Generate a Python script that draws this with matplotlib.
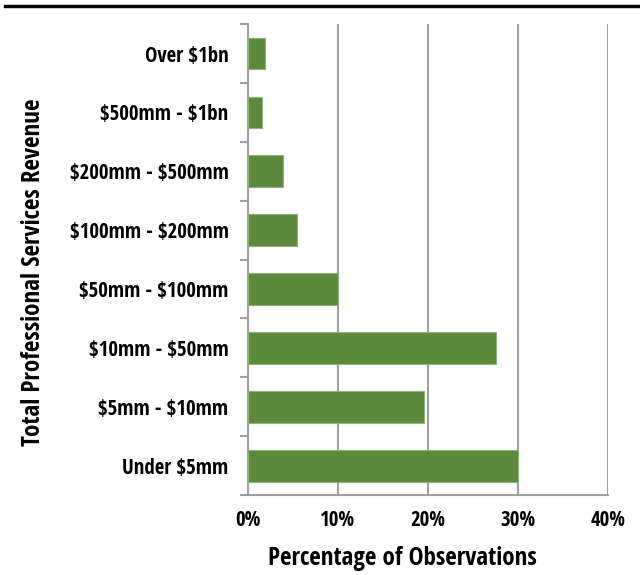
import numpy as np
import matplotlib.pyplot as plt

categories = ['Under $5mm', '$5mm - $10mm', '$10mm - $50mm', '$50mm - $100mm',
              '$100mm - $200mm', '$200mm - $500mm', '$500mm - $1bn', 'Over $1bn']
pct_values = [30.0, 19.6, 27.6, 10.0, 5.4, 3.9, 1.6, 1.9]
x_ticks = [0, 10, 20, 30, 40]
x_tick_labels = ['0%', '10%', '20%', '30%', '40%']

plt.rcParams['font.family'] = ['Open Sans Condensed', 'DejaVu Sans']
plt.rcParams['font.weight'] = 'bold'
plt.rcParams['text.parse_math'] = False

fig = plt.figure(figsize=(6.4, 5.75), dpi=100)
ax = fig.add_axes([0.3875, 0.139, 0.5625, 0.819])

y = np.arange(len(categories))
ax.barh(y, pct_values, height=0.54, color='#5b8a3c', edgecolor='#8fb27a', linewidth=0.8, zorder=3)

ax.set_xlim(0, 40)
ax.set_ylim(-0.5, len(categories) - 0.5)
ax.set_xticks(x_ticks)
ax.set_xticklabels(x_tick_labels, fontsize=15, fontweight='bold')
ax.set_yticks(y)
ax.set_yticklabels(categories, fontsize=15, fontweight='bold')
ax.tick_params(axis='y', length=0, pad=14)
ax.tick_params(axis='x', length=0, pad=11)

# category boundary ticks on y axis
ax.set_yticks(np.arange(-0.5, len(categories)), minor=True)
ax.tick_params(axis='y', which='minor', length=6, width=1.5, color='#a0a0a0', direction='out')
ax.set_xticks(x_ticks, minor=True)
ax.tick_params(axis='x', which='minor', length=7, width=1.5, color='#a0a0a0', direction='out')

ax.grid(axis='x', color='#a0a0a0', linewidth=1.5, zorder=0)
for s in ['top', 'right']:
    ax.spines[s].set_visible(False)
ax.spines['left'].set_color('#a0a0a0')
ax.spines['left'].set_linewidth(1.5)
ax.spines['bottom'].set_color('#a0a0a0')
ax.spines['bottom'].set_linewidth(1.5)

ax.set_xlabel('Percentage of Observations', fontsize=18, fontweight='bold')
ax.set_ylabel('Total Professional Services Revenue', fontsize=18, fontweight='bold')
ax.xaxis.set_label_coords(0.43, -0.108)
ax.yaxis.set_label_coords(-0.56, 0.473)

fig.add_artist(plt.Line2D([0.008, 1.0], [0.99, 0.99], color='black', linewidth=2.5))

fig.savefig('out.png', dpi=100)
